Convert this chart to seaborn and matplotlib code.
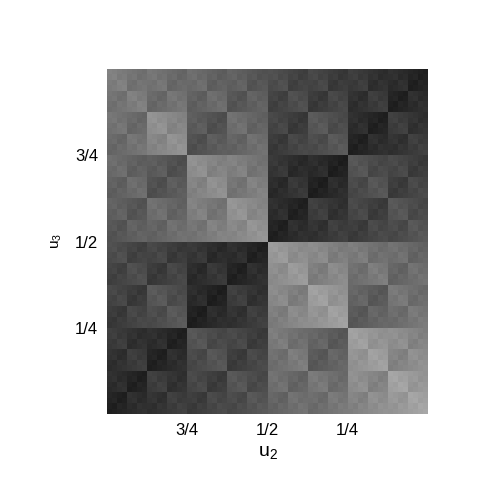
import numpy as np
import matplotlib
matplotlib.use("Agg")
import matplotlib.pyplot as plt
import seaborn as sns

# Coarse 8x8 block gray levels (0-255), rows top->bottom (u3 high->low), cols left->right (u2 high->low)
block_row0 = [0x78, 0x6e, 0x66, 0x5b, 0x48, 0x40, 0x36, 0x28]
block_row1 = [0x6e, 0x8a, 0x56, 0x69, 0x40, 0x52, 0x28, 0x38]
block_row2 = [0x66, 0x56, 0x88, 0x7a, 0x31, 0x26, 0x4f, 0x42]
block_row3 = [0x5b, 0x69, 0x7a, 0x8c, 0x28, 0x38, 0x42, 0x50]
block_row4 = [0x48, 0x40, 0x31, 0x28, 0x92, 0x83, 0x75, 0x6a]
block_row5 = [0x40, 0x52, 0x26, 0x38, 0x83, 0x98, 0x5f, 0x72]
block_row6 = [0x36, 0x28, 0x4f, 0x42, 0x75, 0x5f, 0x98, 0x88]
block_row7 = [0x28, 0x38, 0x42, 0x50, 0x6a, 0x72, 0x88, 0x9c]

# Finer dyadic detail (offsets in gray levels)
detail_20px = [[6, -6], [-6, 6]]
detail_10px = [[3, -3], [-3, 3]]
detail_5px = [[1.5, -1.5], [-1.5, 1.5]]

tick_labels = ["3/4", "1/2", "1/4"]
tick_cells = [16, 32, 48]

blocks = np.array([block_row0, block_row1, block_row2, block_row3,
                   block_row4, block_row5, block_row6, block_row7], dtype=float)
M = np.kron(blocks, np.ones((8, 8)))
M += np.kron(np.ones((8, 8)), np.kron(np.array(detail_20px), np.ones((4, 4))))
M += np.kron(np.ones((16, 16)), np.kron(np.array(detail_10px), np.ones((2, 2))))
M += np.kron(np.ones((32, 32)), np.array(detail_5px))

sns.set_theme(style="white")
plt.rcParams["font.family"] = ["Liberation Sans", "DejaVu Sans"]
plt.rcParams["mathtext.fontset"] = "custom"
plt.rcParams["mathtext.rm"] = "Liberation Sans"
plt.rcParams["mathtext.it"] = "Liberation Sans"
plt.rcParams["text.color"] = "black"
plt.rcParams["axes.labelcolor"] = "black"
plt.rcParams["xtick.color"] = "black"
plt.rcParams["ytick.color"] = "black"

fig = plt.figure(figsize=(5, 5), dpi=100)
fig.patch.set_facecolor("white")
ax = fig.add_axes([0.214, 0.172, 0.642, 0.69])
sns.heatmap(M, cmap="gray", vmin=0, vmax=255, cbar=False, ax=ax,
            xticklabels=False, yticklabels=False, linewidths=0, rasterized=True)
ax.set_xticks(tick_cells)
ax.set_xticklabels(tick_labels, fontsize=12, rotation=0, color="black")
ax.set_yticks(tick_cells)
ax.set_yticklabels(tick_labels, fontsize=12, rotation=0, color="black")
ax.tick_params(axis="both", length=0, pad=6.5, colors="black")
for s in ax.spines.values():
    s.set_visible(False)
ax.set_xlabel(r"$\mathregular{u_2}$", fontsize=14, labelpad=4, color="black")
ax.set_ylabel(r"$\mathregular{u_3}$", fontsize=11, labelpad=8, color="black")
fig.savefig("out.png", dpi=100, facecolor="white")
